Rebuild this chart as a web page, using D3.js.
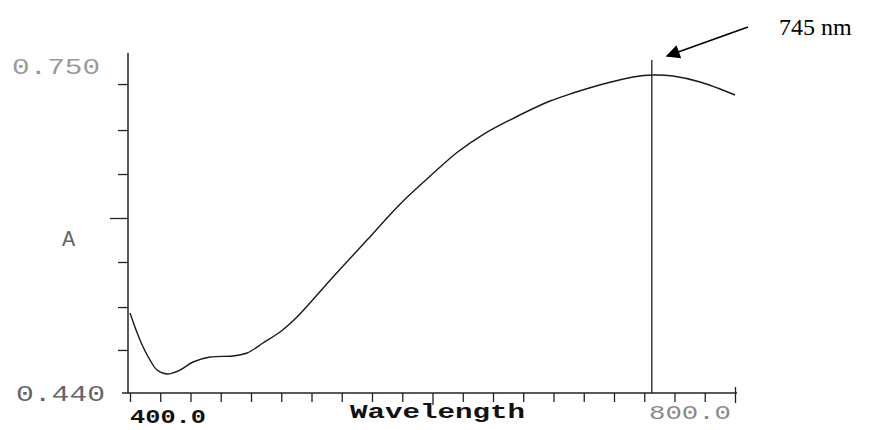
<!DOCTYPE html>
<html><head><meta charset="utf-8">
<script src="https://cdn.jsdelivr.net/npm/d3@7"></script>
<style>body{margin:0;background:#fff}svg{display:block}</style>
</head><body><svg id="c" width="886" height="430"></svg>
<script>
// Spectrum data
const wavelengths = [400, 406.6, 413.2, 417.9, 424.5, 433.1, 441.7, 452.9, 468.1, 477.4, 487.9, 499.2, 510.4, 534.2, 556.7, 578.5, 600.3, 616.2, 633.4, 651.2, 677.7, 692.9, 715.4, 732.6, 745.8, 759.0, 776.9, 800];
const absorbance  = [0.5158, 0.4903, 0.4713, 0.4618, 0.4580, 0.4618, 0.4694, 0.4741, 0.4751, 0.4779, 0.4874, 0.4978, 0.5120, 0.5500, 0.5850, 0.6190, 0.6480, 0.6680, 0.6850, 0.6988, 0.7168, 0.7244, 0.7339, 0.7396, 0.7415, 0.7405, 0.7348, 0.7225];
const xTicks = [400, 420, 440, 460, 480, 500, 520, 540, 560, 580, 600, 620, 640, 660, 680, 700, 720, 740, 760, 780, 800];
const yTicks = [0.4808, 0.5215, 0.5642, 0.6059, 0.6476, 0.6893, 0.7329];
const yMajorTick = 0.6059;
const xMajorTick = 600;
const yTickLabels = ["0.440", "0.750"];
const xTickLabels = ["400.0", "800.0"];
const peakWavelength = 745;
const peakLabel = "745 nm";
const xTitle = "Wavelength";
const yTitle = "A";

const svg = d3.select("#c");
const x = d3.scaleLinear().domain([400, 800]).range([130, 735]);
const y = d3.scaleLinear().domain([0.44, 0.75]).range([393, 66]);
const data = wavelengths.map((w, i) => ({w, a: absorbance[i]}));
const mono = "'Liberation Mono','DejaVu Sans Mono',monospace";

// Y axis
const yAxis = svg.append("g").attr("transform", `translate(${x(400) - 2},0)`)
  .call(d3.axisLeft(y).tickValues(yTicks).tickSize(10).tickSizeOuter(0).tickFormat(""));
yAxis.select(".domain").remove();
yAxis.selectAll(".tick line").attr("stroke", "#222").attr("stroke-width", 1.3)
  .attr("x2", d => d === yMajorTick ? -18 : -10);
yAxis.append("line").attr("x1", 0).attr("x2", 0)
  .attr("y1", y.range()[0]).attr("y2", y.range()[1] - 13)
  .attr("stroke", "#222").attr("stroke-width", 1.5);

// X axis
const xAxis = svg.append("g").attr("transform", `translate(0,${y(0.44)})`)
  .call(d3.axisBottom(x).tickValues(xTicks).tickSize(9).tickSizeOuter(0).tickFormat(""));
xAxis.select(".domain").remove();
xAxis.append("line").attr("x1", x(400) - 8).attr("x2", x(800) + 2)
  .attr("y1", 0).attr("y2", 0).attr("stroke", "#222").attr("stroke-width", 1.5);
xAxis.selectAll(".tick line").attr("stroke", "#222").attr("stroke-width", 1.3)
  .attr("y1", d => d === 800 ? -6 : 0)
  .attr("y2", d => d === xMajorTick ? 12 : (d === 800 ? 10 : 9));

// Curve
svg.append("path").datum(data)
  .attr("d", d3.line().x(d => x(d.w)).y(d => y(d.a)).curve(d3.curveCatmullRom.alpha(0.5)))
  .attr("fill", "none").attr("stroke", "#1a1a1a").attr("stroke-width", 1.4);

// Peak marker line
svg.append("line")
  .attr("x1", x(peakWavelength)).attr("x2", x(peakWavelength))
  .attr("y1", y.range()[1] - 6).attr("y2", y(0.44))
  .attr("stroke", "#222").attr("stroke-width", 1.3);

// Y tick labels
svg.append("text").text(yTickLabels[1]).attr("x", 12).attr("y", y(0.75) + 8)
  .attr("font-family", mono).attr("font-size", 22).attr("fill", "#9a9a9a")
  .attr("textLength", 88).attr("lengthAdjust", "spacingAndGlyphs");
svg.append("text").text(yTickLabels[0]).attr("x", 16).attr("y", y(0.44) + 8)
  .attr("font-family", mono).attr("font-size", 22).attr("fill", "#666")
  .attr("textLength", 89).attr("lengthAdjust", "spacingAndGlyphs");

// X tick labels
svg.append("text").text(xTickLabels[0]).attr("x", x(400)).attr("y", 423)
  .attr("font-family", mono).attr("font-size", 21).attr("font-weight", "bold").attr("fill", "#111")
  .attr("textLength", 76).attr("lengthAdjust", "spacingAndGlyphs");
svg.append("text").text(xTickLabels[1]).attr("x", 649).attr("y", 419)
  .attr("font-family", mono).attr("font-size", 21).attr("fill", "#8a8a8a")
  .attr("textLength", 82).attr("lengthAdjust", "spacingAndGlyphs");

// Titles
svg.append("text").text(xTitle).attr("x", 350).attr("y", 418)
  .attr("font-family", mono).attr("font-size", 21).attr("font-weight", "bold").attr("fill", "#111")
  .attr("textLength", 175).attr("lengthAdjust", "spacingAndGlyphs");
svg.append("text").text(yTitle).attr("x", 62).attr("y", 246)
  .attr("font-family", mono).attr("font-size", 22).attr("fill", "#666");

// Annotation arrow + label
const defs = svg.append("defs");
defs.append("marker").attr("id", "ah").attr("viewBox", "0 0 10 10")
  .attr("refX", 9).attr("refY", 5)
  .attr("markerUnits", "userSpaceOnUse").attr("orient", "auto")
  .attr("markerWidth", 20).attr("markerHeight", 14)
  .append("path").attr("d", "M0,0 L10,5 L0,10 Z").attr("fill", "#000");
svg.append("line").attr("x1", 748).attr("y1", 27).attr("x2", 667).attr("y2", 56)
  .attr("stroke", "#000").attr("stroke-width", 1.8).attr("marker-end", "url(#ah)");
svg.append("text").text(peakLabel).attr("x", 779).attr("y", 35)
  .attr("font-family", "'Liberation Serif','Times New Roman',serif").attr("font-size", 24).attr("fill", "#000");
</script>
</body></html>
